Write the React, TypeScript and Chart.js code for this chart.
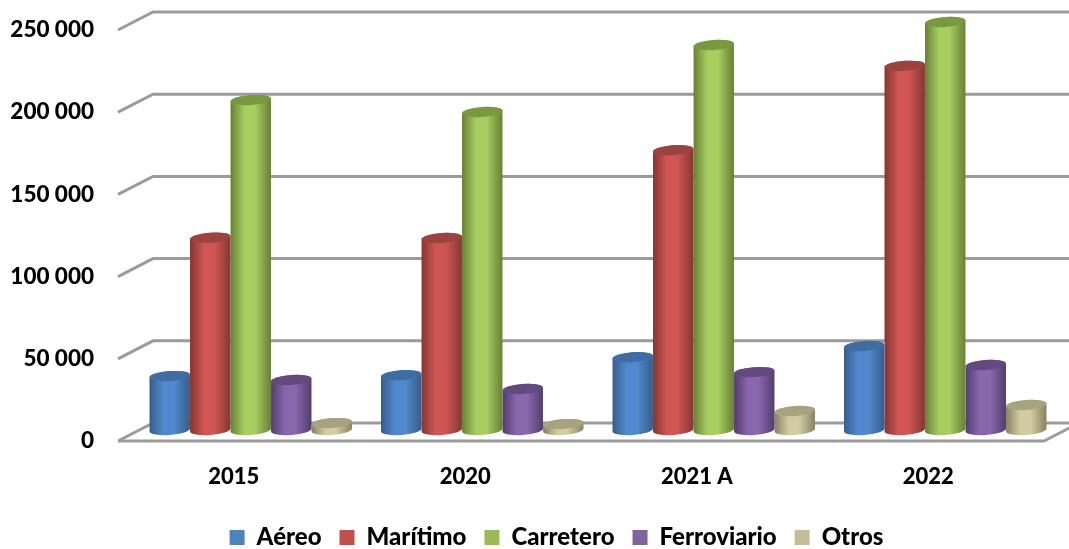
import React, { useEffect, useRef } from "react";
import { Chart, registerables } from "chart.js";

Chart.register(...registerables);

const categories = ["2015", "2020", "2021 A", "2022"];
const aereo = [32800, 33300, 44300, 51100];
const maritimo = [117000, 116800, 170200, 221500];
const carretero = [200700, 193400, 234200, 248200];
const ferroviario = [30400, 24900, 35200, 39500];
const otros = [4200, 3600, 11600, 15200];

const FONT = "Lato, Carlito, Calibri, sans-serif";
const WEIGHT = 900;
const GRID = "#9b9b9b";
const depth = { x: 35, y: -18 };
const barShift = { x: 17, y: -11 };
const LEGEND_CENTER_Y = 540;
const LEGEND_SHIFT_X = 22;
const LEGEND_PADDING = 18;
const LEGEND_FONT = 24;

const shades: Record<string, { edge: string; mid: string; top: string }> = {
  "#4f81bd": { edge: "#355d8a", mid: "#5289ce", top: "#3f6da3" },
  "#c0504d": { edge: "#853633", mid: "#cf5654", top: "#9c4341" },
  "#9bbb59": { edge: "#668036", mid: "#a9ce60", top: "#7a983f" },
  "#8064a2": { edge: "#523d6e", mid: "#8a67ad", top: "#64497f" },
  "#c4bd97": { edge: "#878263", mid: "#d3cca2", top: "#a8a37f" },
};

const cylinderPlugin = {
  id: "cylinders",
  beforeDraw(chart: any) {
    const lg = chart.legend;
    lg.top = LEGEND_CENTER_Y - LEGEND_PADDING - (LEGEND_FONT * 1.2) / 2;
    lg.left = LEGEND_SHIFT_X;
    lg.right = chart.width + LEGEND_SHIFT_X;
  },
  beforeDatasetsDraw(chart: any) {
    const { ctx, scales } = chart;
    const xs = scales.x;
    const ys = scales.y;
    ctx.save();
    ctx.strokeStyle = GRID;
    ctx.lineWidth = 3;
    ctx.lineJoin = "miter";
    ys.ticks.forEach((t: any) => {
      const y = ys.getPixelForValue(t.value);
      ctx.beginPath();
      ctx.moveTo(xs.left, y);
      ctx.lineTo(xs.left + depth.x, y + depth.y);
      ctx.lineTo(xs.right + depth.x, y + depth.y);
      ctx.stroke();
    });
    const y0 = ys.getPixelForValue(0);
    ctx.beginPath();
    ctx.moveTo(xs.left, y0);
    ctx.lineTo(xs.right, y0);
    ctx.lineTo(xs.right + depth.x, y0 + depth.y);
    ctx.stroke();
    ctx.restore();
  },
  beforeDatasetDraw(chart: any, args: any) {
    const { ctx } = chart;
    const ds = chart.data.datasets[args.index];
    const s = shades[ds.backgroundColor];
    const ry = 5;
    const rot = -0.07;
    args.meta.data.forEach((el: any) => {
      const cx = el.x + barShift.x;
      const r = el.width / 2;
      const yt = el.y + barShift.y;
      const yb = el.base + barShift.y;
      const g = ctx.createLinearGradient(cx - r, 0, cx + r, 0);
      g.addColorStop(0, s.edge);
      g.addColorStop(0.35, s.mid);
      g.addColorStop(0.6, s.mid);
      g.addColorStop(1, s.edge);
      ctx.save();
      ctx.fillStyle = g;
      ctx.beginPath();
      ctx.ellipse(cx, yb, r, ry, rot, 0, Math.PI, false);
      ctx.ellipse(cx, yt, r, ry, rot, Math.PI, Math.PI * 2, false);
      ctx.closePath();
      ctx.fill();
      ctx.fillStyle = s.top;
      ctx.beginPath();
      ctx.ellipse(cx, yt, r, ry, rot, 0, Math.PI * 2);
      ctx.fill();
      ctx.restore();
    });
    return false;
  },
};

const formatTick = (v: any) => String(v).replace(/\B(?=(\d{3})+$)/g, " ");

export default function App() {
  const ref = useRef<HTMLCanvasElement>(null);
  useEffect(() => {
    document.body.style.margin = "0";
    const chart = new Chart(ref.current as HTMLCanvasElement, {
      type: "bar",
      data: {
        labels: categories,
        datasets: [
          { label: "Aéreo", data: aereo, backgroundColor: "#4f81bd" },
          { label: "Marítimo", data: maritimo, backgroundColor: "#c0504d" },
          { label: "Carretero", data: carretero, backgroundColor: "#9bbb59" },
          { label: "Ferroviario", data: ferroviario, backgroundColor: "#8064a2" },
          { label: "Otros", data: otros, backgroundColor: "#c4bd97" },
        ],
      },
      options: {
        responsive: false,
        animation: false,
        devicePixelRatio: 1,
        layout: { autoPadding: false, padding: { top: 30, right: 25, left: 0, bottom: 0 } },
        datasets: { bar: { categoryPercentage: 0.875, barPercentage: 1 } },
        plugins: {
          tooltip: { enabled: false },
          legend: {
            position: "bottom",
            maxHeight: 30,
            labels: {
              color: "#000",
              boxWidth: 15,
              boxHeight: 15,
              padding: LEGEND_PADDING,
              font: { family: FONT, size: LEGEND_FONT, weight: WEIGHT },
            },
          },
        },
        scales: {
          x: {
            grid: { display: false, drawTicks: false },
            border: { display: false },
            ticks: { color: "#000", padding: 23, maxRotation: 0, font: { family: FONT, size: 22, weight: WEIGHT } },
            afterFit: (s: any) => { s.height = 78; s.paddingLeft = 0; s.paddingRight = 0; },
          },
          y: {
            min: 0,
            max: 250000,
            grid: { display: false, drawTicks: false },
            border: { display: false },
            ticks: { color: "#000", stepSize: 50000, padding: 24, callback: formatTick, font: { family: FONT, size: 22.5, weight: WEIGHT } },
            afterFit: (s: any) => { s.width = 118; s.paddingTop = 0; s.paddingBottom = 0; },
          },
        },
      },
      plugins: [cylinderPlugin],
    } as any);
    return () => chart.destroy();
  }, []);
  return <canvas ref={ref} width={1069} height={549} style={{ display: "block" }} />;
}
